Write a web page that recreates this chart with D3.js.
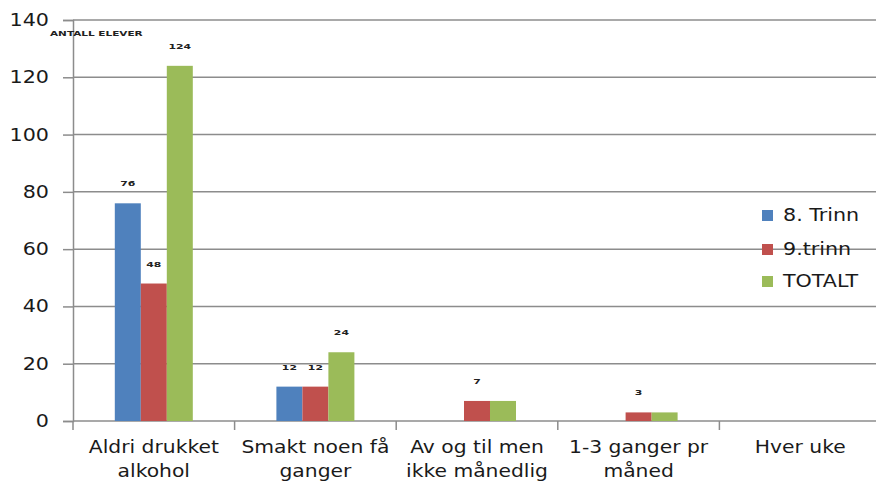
<!DOCTYPE html>
<html><head><meta charset="utf-8">
<script src="https://cdn.jsdelivr.net/npm/d3@7"></script>
<style>
html,body{margin:0;padding:0;background:#fff;overflow:hidden}
svg text{font-family:"DejaVu Sans",Verdana,sans-serif}
</style></head>
<body><svg id="c" width="876" height="484"></svg>
<script>
const categories = [["Aldri drukket","alkohol"],["Smakt noen få","ganger"],["Av og til men","ikke månedlig"],["1-3 ganger pr","måned"],["Hver uke"]];
const seriesNames = ["8. Trinn","9.trinn","TOTALT"];
const seriesColors = ["#4F81BD","#C0504D","#9BBB59"];
const trinn8 = [76,12,0,0,0];
const trinn9 = [48,12,7,3,0];
const totalt = [124,24,7,3,0];
const labels8 = ["76","12",null,null,null];
const labels9 = ["48","12","7","3",null];
const labelsT = ["124","24",null,null,null];
const yTicks = [0,20,40,60,80,100,120,140];
const axisTitle = "ANTALL ELEVER";

const series = [trinn8,trinn9,totalt];
const seriesLabels = [labels8,labels9,labelsT];

const svg = d3.select("#c");
const m = {left:73, right:881, top:20, bottom:421};
const x = d3.scaleBand().domain(d3.range(categories.length)).range([m.left,m.right]).paddingInner(0).paddingOuter(0);
const y = d3.scaleLinear().domain([0,140]).range([m.bottom,m.top]);
const inner = d3.scaleBand().domain(d3.range(3)).range([0,78]);
const groupOffset = (x.bandwidth()-78)/2;
const SX = 1.18;

function stxt(g, px, py, str, opts){
  const t = g.append("g").attr("transform",`translate(${px},${py}) scale(${opts.sx||SX},1)`)
    .append("text").attr("x",0).attr("y",0)
    .attr("text-anchor",opts.anchor||"start").attr("font-size",opts.size||17.5)
    .attr("fill",opts.fill||"#1a1a1a").text(str);
  if(opts.weight) t.attr("font-weight",opts.weight);
  if(opts.baseline) t.attr("dominant-baseline",opts.baseline);
  return t;
}

// gridlines
svg.append("g").selectAll("line").data(yTicks.filter(d=>d>0)).join("line")
  .attr("x1",m.left).attr("x2",m.right).attr("y1",d=>y(d)).attr("y2",d=>y(d))
  .attr("stroke","#8c8c8c").attr("stroke-width",1.5);

// y axis
const ya = svg.append("g").attr("transform",`translate(${m.left},0)`)
  .call(d3.axisLeft(y).tickValues(yTicks).tickSize(10).tickFormat(""));
ya.select(".domain").attr("stroke","#8c8c8c").attr("stroke-width",1.5);
ya.selectAll(".tick line").attr("stroke","#8c8c8c").attr("stroke-width",1.5);
yTicks.forEach(v=>stxt(svg, 49, y(v)+6, String(v), {anchor:"end", size:17.5}));

// x axis
const xa = svg.append("g").attr("transform",`translate(0,${m.bottom})`);
xa.append("line").attr("x1",m.left).attr("x2",m.right).attr("stroke","#8c8c8c").attr("stroke-width",1.5);
xa.selectAll("line.t").data(d3.range(categories.length+1)).join("line").attr("class","t")
  .attr("x1",i=>m.left+i*x.bandwidth()).attr("x2",i=>m.left+i*x.bandwidth())
  .attr("y1",0).attr("y2",9).attr("stroke","#8c8c8c").attr("stroke-width",1.5);
categories.forEach((lines,i)=>{
  lines.forEach((l,k)=>stxt(xa, x(i)+x.bandwidth()/2, 32+k*24, l, {anchor:"middle", size:17.5, sx:1.16}));
});

// bars
series.forEach((vals,s)=>{
  svg.append("g").selectAll("rect").data(vals).join("rect")
    .attr("x",(d,i)=>x(i)+groupOffset+inner(s)).attr("width",inner.bandwidth())
    .attr("y",d=>y(d)).attr("height",d=>y(0)-y(d)).attr("fill",seriesColors[s]);
  const lg = svg.append("g");
  vals.forEach((d,i)=>{
    if(seriesLabels[s][i]===null) return;
    stxt(lg, x(i)+groupOffset+inner(s)+inner.bandwidth()/2, y(d)-17, seriesLabels[s][i],
      {anchor:"middle", size:7.5, weight:"bold", fill:"#222", sx:1.45});
  });
});

// axis title
stxt(svg, 50, 36, axisTitle, {size:7, weight:"bold", fill:"#222", sx:1.5});

// legend
const lg = svg.append("g").attr("transform","translate(762,0)");
const legTop = [210,244,276];
seriesNames.forEach((n,s)=>{
  lg.append("rect").attr("x",0).attr("y",legTop[s]).attr("width",11).attr("height",11).attr("fill",seriesColors[s]);
  stxt(lg, 21, legTop[s]+11, n, {size:17.5, sx:1.18});
});
</script></body></html>
